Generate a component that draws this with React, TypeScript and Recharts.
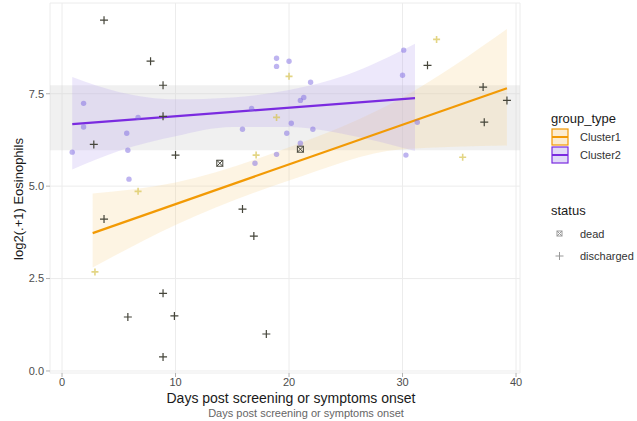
import React from 'react';
import {
  ComposedChart,
  Scatter,
  Line,
  Area,
  XAxis,
  YAxis,
  CartesianGrid,
  ReferenceArea,
} from 'recharts';

const FONT = '"Liberation Sans", Arial, Helvetica, sans-serif';
const ORANGE = '#F29A05';
const PURPLE = '#7A2BE0';

// group_type = Cluster2 observations
const cluster2Points = [
  { x: 0.9, y: 5.92 }, { x: 1.9, y: 7.24 }, { x: 1.9, y: 6.6 }, { x: 5.7, y: 6.43 },
  { x: 5.8, y: 5.97 }, { x: 5.9, y: 5.19 }, { x: 6.7, y: 6.86 }, { x: 15.9, y: 6.54 },
  { x: 16.7, y: 7.1 }, { x: 17.0, y: 5.62 }, { x: 18.9, y: 8.46 }, { x: 18.9, y: 8.24 },
  { x: 20.0, y: 8.38 }, { x: 21.9, y: 7.81 }, { x: 21.0, y: 7.32 }, { x: 21.3, y: 7.4 },
  { x: 20.2, y: 6.7 }, { x: 19.8, y: 6.43 }, { x: 21.0, y: 6.16 }, { x: 18.9, y: 5.86 },
  { x: 22.1, y: 6.54 }, { x: 30.1, y: 8.68 }, { x: 30.0, y: 8.0 }, { x: 31.3, y: 6.73 },
  { x: 30.3, y: 5.84 },
];

// group_type = Cluster1 observations (faint)
const cluster1Points = [
  { x: 20.0, y: 7.97 }, { x: 18.9, y: 6.86 }, { x: 17.1, y: 5.84 }, { x: 6.7, y: 4.86 },
  { x: 2.9, y: 2.68 }, { x: 33.0, y: 8.97 }, { x: 35.3, y: 5.78 },
];

// status = discharged
const dischargedPoints = [
  { x: 3.7, y: 9.49 }, { x: 7.8, y: 8.38 }, { x: 8.9, y: 7.73 }, { x: 8.9, y: 6.89 },
  { x: 2.8, y: 6.13 }, { x: 10.0, y: 5.84 }, { x: 3.7, y: 4.11 }, { x: 15.9, y: 4.38 },
  { x: 16.9, y: 3.65 }, { x: 8.9, y: 2.1 }, { x: 5.8, y: 1.46 }, { x: 9.9, y: 1.49 },
  { x: 8.9, y: 0.38 }, { x: 18.0, y: 1.0 }, { x: 32.2, y: 8.27 }, { x: 37.1, y: 7.68 },
  { x: 39.2, y: 7.32 }, { x: 37.2, y: 6.73 },
];

// status = dead
const deadPoints = [
  { x: 13.9, y: 5.62 }, { x: 21.0, y: 6.0 },
];

// lm fits
const cluster1Fit = [{ x: 2.7, y: 3.73 }, { x: 39.2, y: 7.65 }];
const cluster2Fit = [{ x: 0.9, y: 6.68 }, { x: 31.1, y: 7.38 }];

// confidence bands
const cluster1Band = [
  { x: 2.7, lo: 2.8, hi: 4.8 }, { x: 10, lo: 3.95, hi: 5.1 }, { x: 20, lo: 5.15, hi: 6.05 },
  { x: 30, lo: 6.0, hi: 7.4 }, { x: 39.2, lo: 6.1, hi: 9.25 },
];
const cluster2Band = [
  { x: 0.9, lo: 5.45, hi: 7.95 }, { x: 5, lo: 5.95, hi: 7.55 }, { x: 10, lo: 6.35, hi: 7.35 },
  { x: 15, lo: 6.6, hi: 7.4 }, { x: 20, lo: 6.6, hi: 7.6 }, { x: 25, lo: 6.4, hi: 8.0 },
  { x: 31.1, lo: 5.95, hi: 8.85 },
];

const xTicks = [0, 10, 20, 30, 40];
const yTicks = [0, 2.5, 5, 7.5];

const Dot = (props: any) => (
  <circle cx={props.cx} cy={props.cy} r={2.7} fill="rgba(125,105,225,0.5)" />
);
const FaintPlus = (props: any) => (
  <path
    d={`M${props.cx - 3.5},${props.cy}H${props.cx + 3.5}M${props.cx},${props.cy - 3.5}V${props.cy + 3.5}`}
    stroke="rgba(215,195,80,0.7)"
    strokeWidth={1.6}
  />
);
const Plus = (props: any) => (
  <path
    d={`M${props.cx - 4},${props.cy}H${props.cx + 4}M${props.cx},${props.cy - 4}V${props.cy + 4}`}
    stroke="#45453a"
    strokeWidth={1.2}
  />
);
const Dead = (props: any) => {
  const { cx, cy } = props;
  return (
    <g stroke="#45453a" strokeWidth={1} fill="none">
      <rect x={cx - 3} y={cy - 3} width={6} height={6} />
      <path d={`M${cx - 3},${cy - 3}L${cx + 3},${cy + 3}M${cx + 3},${cy - 3}L${cx - 3},${cy + 3}`} />
    </g>
  );
};

const LegendBox = () => (
  <svg width={100} height={170} style={{ position: 'absolute', left: 545, top: 105 }}>
    <g fontFamily={FONT}>
      <text x={6} y={18} fontSize={13} fill="#1a1a1a">group_type</text>
      <rect x={7} y={24} width={16} height={16} fill="rgba(245,200,120,0.35)" stroke={ORANGE} strokeWidth={1.2} />
      <line x1={7} x2={23} y1={32} y2={32} stroke={ORANGE} strokeWidth={2} />
      <text x={35} y={36} fontSize={11} fill="#333">Cluster1</text>
      <rect x={7} y={42} width={16} height={16} fill="rgba(170,150,235,0.35)" stroke={PURPLE} strokeWidth={1.2} />
      <line x1={7} x2={23} y1={50} y2={50} stroke={PURPLE} strokeWidth={2} />
      <text x={35} y={54} fontSize={11} fill="#333">Cluster2</text>
      <text x={6} y={110} fontSize={13} fill="#1a1a1a">status</text>
      <g stroke="#999" strokeWidth={1} fill="none">
        <rect x={12} y={126} width={5} height={5} />
        <path d="M12,126L17,131M17,126L12,131" />
      </g>
      <text x={35} y={133} fontSize={11} fill="#333">dead</text>
      <path d="M10.5,151H18.5M14.5,147V155" stroke="#999" strokeWidth={1} />
      <text x={35} y={155} fontSize={11} fill="#333">discharged</text>
    </g>
  </svg>
);

export default function App() {
  return (
    <div style={{ position: 'absolute', left: 0, top: 0, width: 637, height: 421, overflow: 'hidden', background: '#fff' }}>
      <ComposedChart
        width={637}
        height={421}
        margin={{ top: 3, right: 117, bottom: 28, left: 0 }}
      >
        <CartesianGrid stroke="#ececec" strokeWidth={1} />
        <XAxis
          type="number"
          dataKey="x"
          domain={[-1.06, 40.35]}
          ticks={xTicks}
          allowDataOverflow
          axisLine={false}
          tickLine={{ stroke: '#b3b3b3' }}
          tickSize={4}
          tickMargin={1}
          height={20}
          tick={{ fontSize: 11, fill: '#4d4d4d', fontFamily: FONT }}
        />
        <YAxis
          type="number"
          dataKey="y"
          domain={[-0.055, 9.955]}
          ticks={yTicks}
          allowDataOverflow
          axisLine={false}
          tickLine={{ stroke: '#b3b3b3' }}
          tickSize={4}
          tickMargin={2}
          width={50}
          tickFormatter={(v: number) => v.toFixed(1)}
          tick={{ fontSize: 11, fill: '#4d4d4d', fontFamily: FONT }}
        />
        <ReferenceArea y1={5.97} y2={7.73} fill="#cccccc" fillOpacity={0.3} stroke="none" />
        <Area
          data={cluster1Band}
          dataKey={(d: any) => [d.lo, d.hi]}
          type="monotone"
          fill="rgba(245,208,140,1)"
          fillOpacity={0.24}
          stroke="none"
          isAnimationActive={false}
        />
        <Area
          data={cluster2Band}
          dataKey={(d: any) => [d.lo, d.hi]}
          type="monotone"
          fill="rgba(180,160,240,1)"
          fillOpacity={0.24}
          stroke="none"
          isAnimationActive={false}
        />
        <Scatter data={cluster2Points} shape={Dot} isAnimationActive={false} />
        <Scatter data={cluster1Points} shape={FaintPlus} isAnimationActive={false} />
        <Scatter data={dischargedPoints} shape={Plus} isAnimationActive={false} />
        <Scatter data={deadPoints} shape={Dead} isAnimationActive={false} />
        <Line data={cluster1Fit} dataKey="y" stroke={ORANGE} strokeWidth={2.2} dot={false} isAnimationActive={false} />
        <Line data={cluster2Fit} dataKey="y" stroke={PURPLE} strokeWidth={2.2} dot={false} isAnimationActive={false} />
        <ReferenceArea fill="none" stroke="#b3b3b3" strokeWidth={1} />
      </ComposedChart>
      <div
        style={{
          position: 'absolute', left: 10, top: 199, transform: 'translate(-50%, -50%) rotate(-90deg)',
          fontFamily: FONT, fontSize: 13, color: '#1a1a1a', whiteSpace: 'nowrap', marginLeft: 8,
        }}
      >
        log2(.+1) Eosinophils
      </div>
      <div
        style={{
          position: 'absolute', left: 291, top: 398, transform: 'translate(-50%, -50%)',
          fontFamily: FONT, fontSize: 14, color: '#1a1a1a', whiteSpace: 'nowrap',
        }}
      >
        Days post screening or symptoms onset
      </div>
      <div
        style={{
          position: 'absolute', left: 306, top: 413, transform: 'translate(-50%, -50%)',
          fontFamily: FONT, fontSize: 11, lineHeight: '12px', color: '#666', whiteSpace: 'nowrap',
        }}
      >
        Days post screening or symptoms onset
      </div>
      <LegendBox />
    </div>
  );
}
